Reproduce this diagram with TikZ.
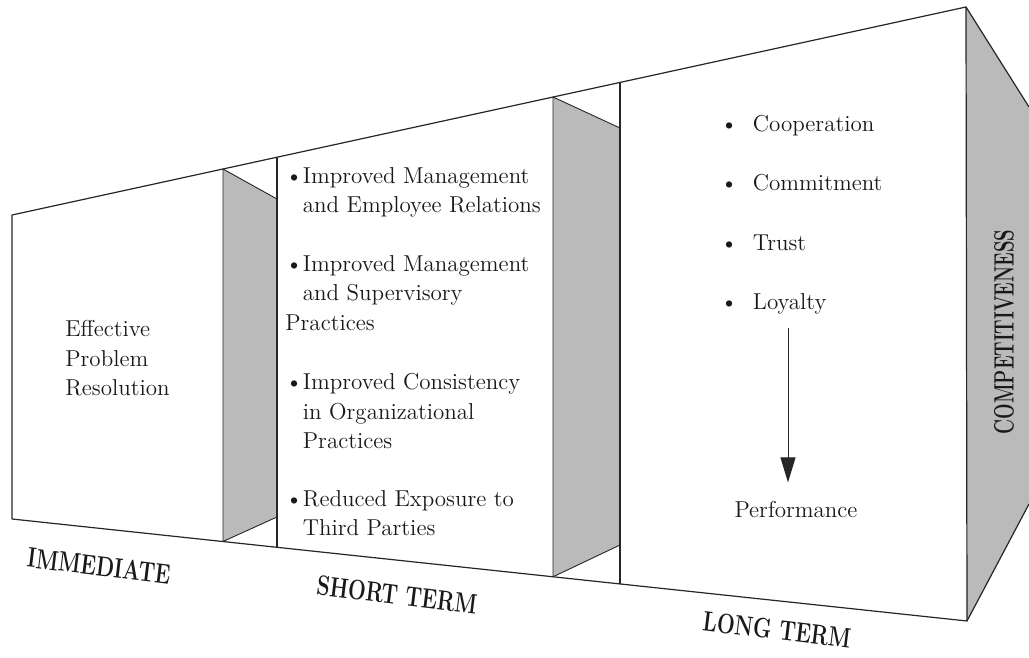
\documentclass[tikz,border=0pt]{standalone}
\usepackage{tikz}
\usetikzlibrary{positioning}
\usetikzlibrary{arrows.meta}
\newlength{\vdist}
\tikzstyle{edge}=[draw=black!85, line width=0.6pt]
\tikzstyle{shade}=[fill=black!27!white, draw=black!85, line width=0.45pt]
\tikzstyle{txt}=[inner sep=0pt, align=left, anchor=north west, text=black!90, font=\fontsize{11.5}{14.75}\selectfont]
\tikzstyle{item}=[inner sep=0pt, anchor=base west, text=black!90, font=\fontsize{11.5}{14.75}\selectfont]
\tikzstyle{term}=[inner sep=0pt, text=black!90, font=\fontsize{14}{16}\selectfont\bfseries]
\tikzstyle{flow}=[draw=black!85, line width=0.5pt, -{Triangle[length=12.5pt, width=7.5pt]}]

\begin{document}
\begin{tikzpicture}[x=0.5pt, y=-0.5pt, line join=round]
				
				\setlength{\vdist}{29.5pt}
				\useasboundingbox[fill=white] (0,0) rectangle (1029,658);
				
				% outline of the funnel
				\coordinate (tl) at (12,215);
				\coordinate (bl) at (12,519);
				\coordinate (tr) at (966,7);
				\coordinate (br) at (967,621);
				\coordinate (rt) at (1029,107);
				\coordinate (rb) at (1029,504);
				%
				\coordinate (p1t) at (223,169);
				\coordinate (p1b) at (223,541.5);
				\coordinate (s1t) at (277,199);
				\coordinate (s1b) at (277,517);
				\coordinate (q1t) at (277,157.2);
				\coordinate (q1b) at (277,547.3);
				%
				\coordinate (p2t) at (553,97);
				\coordinate (p2b) at (553,576.8);
				\coordinate (s2t) at (620,128);
				\coordinate (s2b) at (620,545);
				\coordinate (q2t) at (620,82.4);
				\coordinate (q2b) at (620,583.9);
				
				\path[shade] (p1t) -- (s1t) -- (s1b) -- (p1b) -- cycle;
				\path[shade] (p2t) -- (s2t) -- (s2b) -- (p2b) -- cycle;
				\path[shade, draw=none] (tr) -- (rt) -- (rb) -- (br) -- cycle;
				
				\draw[edge] (bl) -- (tl) -- (tr) -- (br) -- cycle;
				\draw[edge] (rt) -- (tr);
				\draw[edge] (rb) -- (br);
				\draw[edge] (q1t) -- (q1b);
				\draw[edge] (q2t) -- (q2b);
				
				% immediate
				\node (effect) [txt] at (65,320) {Effective\\Problem\\Resolution};
				
				% short term
				\node (mer) [txt] at (285,167) {\textbullet Improved Management\\\hphantom{\textbullet}and Employee Relations};
				\node (msp) [txt] at (285,255) {\textbullet Improved Management\\\hphantom{\textbullet}and Supervisory\\Practices};
				\node (cop) [txt] at (285,373) {\textbullet Improved Consistency\\\hphantom{\textbullet}in Organizational\\\hphantom{\textbullet}Practices};
				\node (tpe) [txt] at (285,490) {\textbullet Reduced Exposure to\\\hphantom{\textbullet}Third Parties};
				
				% long term
				\node (coop) [item] at (720,132) {\textbullet\hspace{7.5pt}Cooperation};
				\node (comm) [item, below=\vdist of coop.base west, anchor=base west] {\textbullet\hspace{7.5pt}Commitment};
				\node (trust) [item, below=\vdist of comm.base west, anchor=base west] {\textbullet\hspace{7.5pt}Trust};
				\node (loyal) [item, below=\vdist of trust.base west, anchor=base west] {\textbullet\hspace{7.5pt}Loyalty};
				\node (perf) [item, anchor=base] at (796,517) {Performance};
				
				\coordinate (astart) at (788,328);
				\draw[flow, shorten >=9pt] (astart) -- (astart |- perf.north);
				
				% time labels
				\node (imm) [term, rotate=-7] at (99,566) {\scalebox{0.75}[1]{IMMEDIATE}};
				\node (short) [term, rotate=-7] at (397,595) {\scalebox{0.75}[1]{SHORT TERM}};
				\node (long) [term, rotate=-7] at (777,630) {\scalebox{0.75}[1]{LONG TERM}};
				\node (compet) [term, rotate=90] at (1004,332) {\scalebox{0.66}[1]{COMPETITIVENESS}};
				
\end{tikzpicture}
\end{document}
